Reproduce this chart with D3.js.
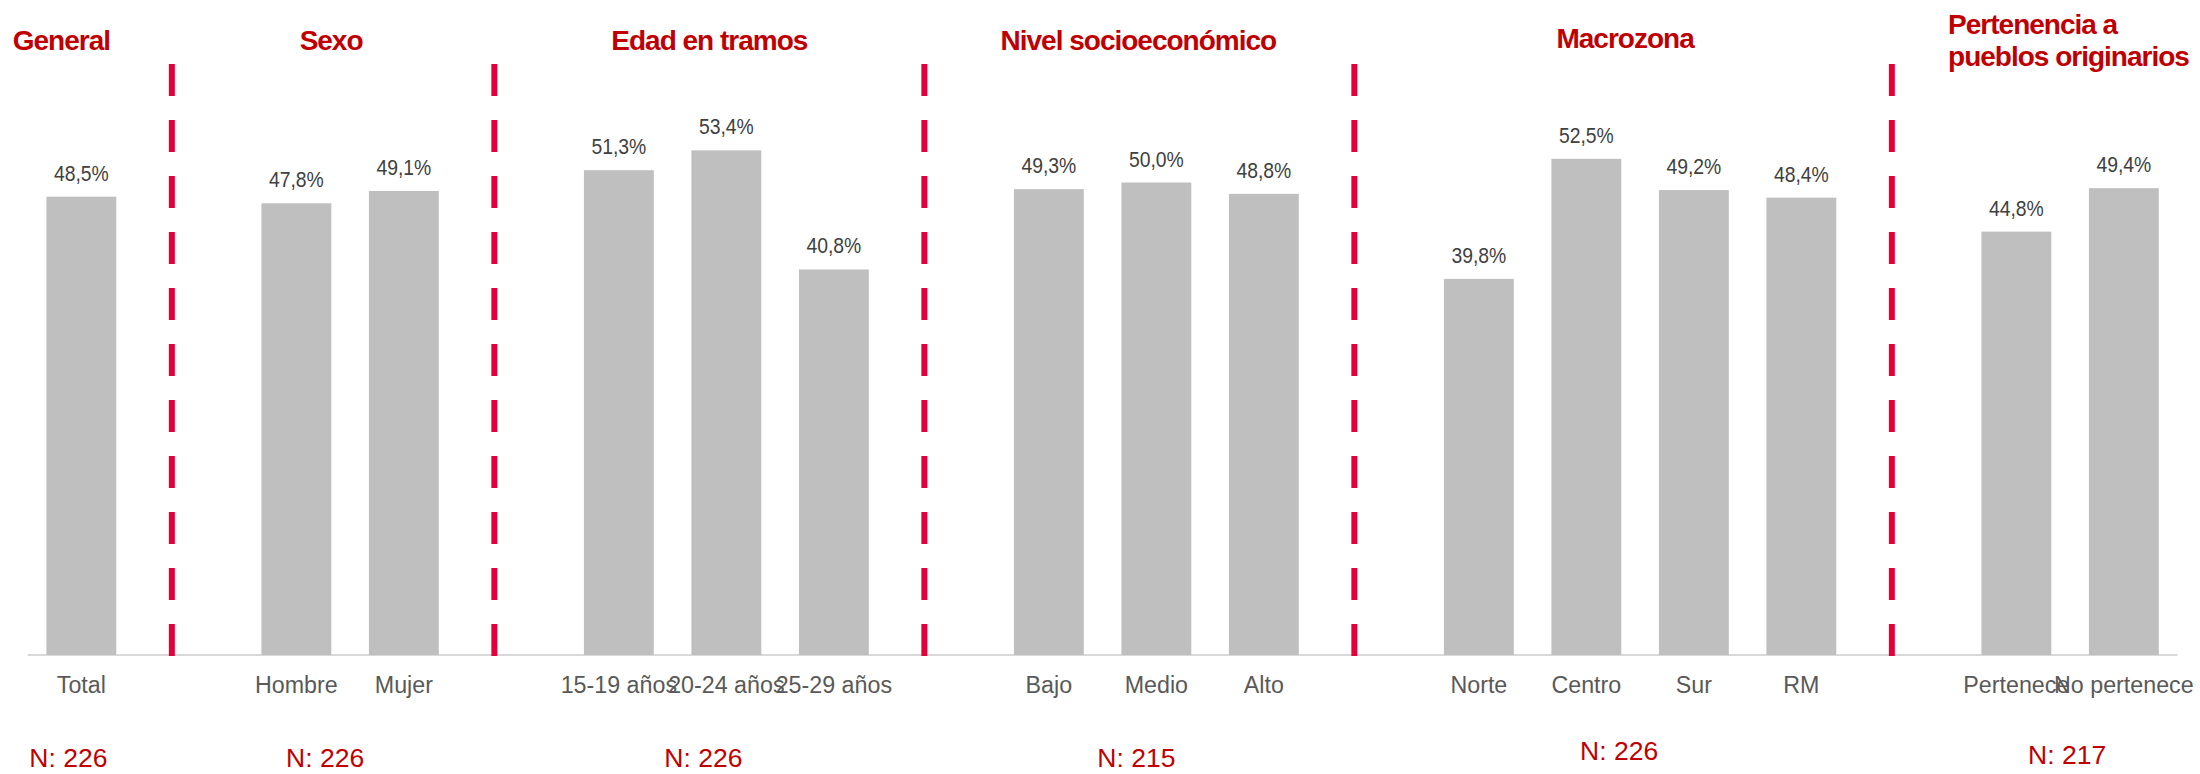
<!DOCTYPE html>
<html>
<head>
<meta charset="utf-8">
<script src="https://cdn.jsdelivr.net/npm/d3@7"></script>
<style>
  body { margin: 0; background: #fff; }
  svg { display: block; font-family: "Liberation Sans", Arial, sans-serif; }
</style>
</head>
<body>
<svg id="chart" width="2200" height="774"></svg>
<script>
// Data
var groups = ["General", "Sexo", "Edad en tramos", "Nivel socioeconómico", "Macrozona", "Pertenencia a pueblos originarios"]
var groupTitles = [["General"], ["Sexo"], ["Edad en tramos"], ["Nivel socioeconómico"], ["Macrozona"], ["Pertenencia a", "pueblos originarios"]]
var categories = [
  ["Total"],
  ["Hombre", "Mujer"],
  ["15-19 años", "20-24 años", "25-29 años"],
  ["Bajo", "Medio", "Alto"],
  ["Norte", "Centro", "Sur", "RM"],
  ["Pertenece", "No pertenece"]
]
var values = [
  [48.5],
  [47.8, 49.1],
  [51.3, 53.4, 40.8],
  [49.3, 50.0, 48.8],
  [39.8, 52.5, 49.2, 48.4],
  [44.8, 49.4]
]
var sampleSizes = [226, 226, 226, 215, 226, 217]

// small hand nudges for the free-floating text boxes (px from group centre)
var titleNudge = [-20, -19, -17, -18, -15, -122]
var nNudge = [-13, -25, -23, -20, -21, -3]
var nBaseline = [767, 767, 767, 767, 760, 764]

var svg = d3.select("#chart")
var baseY = 655

// Build the slot list: each group's categories, with an empty slot between groups
var slots = []
groups.forEach(function (g, gi) {
  if (gi > 0) slots.push({ spacer: true, key: "gap" + gi })
  categories[gi].forEach(function (c, ci) {
    slots.push({ key: c, group: gi, value: values[gi][ci] })
  })
})

var x = d3.scaleBand()
  .domain(slots.map(function (d) { return d.key }))
  .range([27.6, 2177.6])
  .paddingInner(0.35)
  .paddingOuter(0.175)

function center(key) { return x(key) + x.bandwidth() / 2 }

var y = d3.scaleLinear().domain([0, 60]).range([baseY, baseY - 60 * 9.45])

var bars = slots.filter(function (d) { return !d.spacer })

// axis line
svg.append("line")
  .attr("x1", 27.6).attr("x2", 2177.6)
  .attr("y1", baseY).attr("y2", baseY)
  .attr("stroke", "#d9d9d9")
  .attr("stroke-width", 2)

// bars
svg.append("g").selectAll("rect")
  .data(bars)
  .enter()
  .append("rect")
  .attr("x", function (d) { return x(d.key) })
  .attr("y", function (d) { return y(d.value) })
  .attr("width", x.bandwidth())
  .attr("height", function (d) { return baseY - y(d.value) })
  .attr("fill", "#bfbfbf")

// value labels (the source font is a little condensed)
svg.append("g").selectAll("text")
  .data(bars)
  .enter()
  .append("text")
  .attr("transform", function (d) {
    return "translate(" + center(d.key) + "," + (y(d.value) - 16) + ") scale(0.88,1)"
  })
  .attr("text-anchor", "middle")
  .style("font-size", "22px")
  .attr("fill", "#404040")
  .text(function (d) { return d3.format(".1f")(d.value).replace(".", ",") + "%" })

// category labels
svg.append("g").selectAll("text")
  .data(bars)
  .enter()
  .append("text")
  .attr("transform", function (d) { return "translate(" + center(d.key) + ",693) scale(0.95,1)" })
  .attr("text-anchor", "middle")
  .style("font-size", "24.5px")
  .attr("fill", "#595959")
  .text(function (d) { return d.key })

// dashed separators
var gaps = slots.filter(function (d) { return d.spacer })
svg.append("g").selectAll("line")
  .data(gaps)
  .enter()
  .append("line")
  .attr("x1", function (d) { return center(d.key) - 17 })
  .attr("x2", function (d) { return center(d.key) - 17 })
  .attr("y1", 64)
  .attr("y2", 656)
  .attr("stroke", "#e4003b")
  .attr("stroke-width", 6)
  .attr("stroke-dasharray", "32,24")

// group centres
function groupCenter(gi) {
  var keys = categories[gi]
  return (center(keys[0]) + center(keys[keys.length - 1])) / 2
}

// group titles
groups.forEach(function (g, gi) {
  var lines = groupTitles[gi]
  var multi = lines.length > 1
  var t = svg.append("text")
    .attr("x", groupCenter(gi) + titleNudge[gi])
    .attr("y", multi ? 34 : (gi == 4 ? 48 : 50))
    .attr("text-anchor", multi ? "start" : "middle")
    .style("font-size", "28px")
    .style("font-weight", "bold")
    .style("letter-spacing", "-1px")
    .attr("fill", "#c00000")
  lines.forEach(function (l, li) {
    t.append("tspan")
      .attr("x", groupCenter(gi) + titleNudge[gi])
      .attr("dy", li == 0 ? 0 : 32)
      .text(l)
  })
})

// sample sizes
svg.append("g").selectAll("text")
  .data(sampleSizes)
  .enter()
  .append("text")
  .attr("x", function (d, i) { return groupCenter(i) + nNudge[i] })
  .attr("y", function (d, i) { return nBaseline[i] })
  .attr("text-anchor", "middle")
  .style("font-size", "26.5px")
  .attr("fill", "#c00000")
  .text(function (d) { return "N: " + d })
</script>
</body>
</html>
